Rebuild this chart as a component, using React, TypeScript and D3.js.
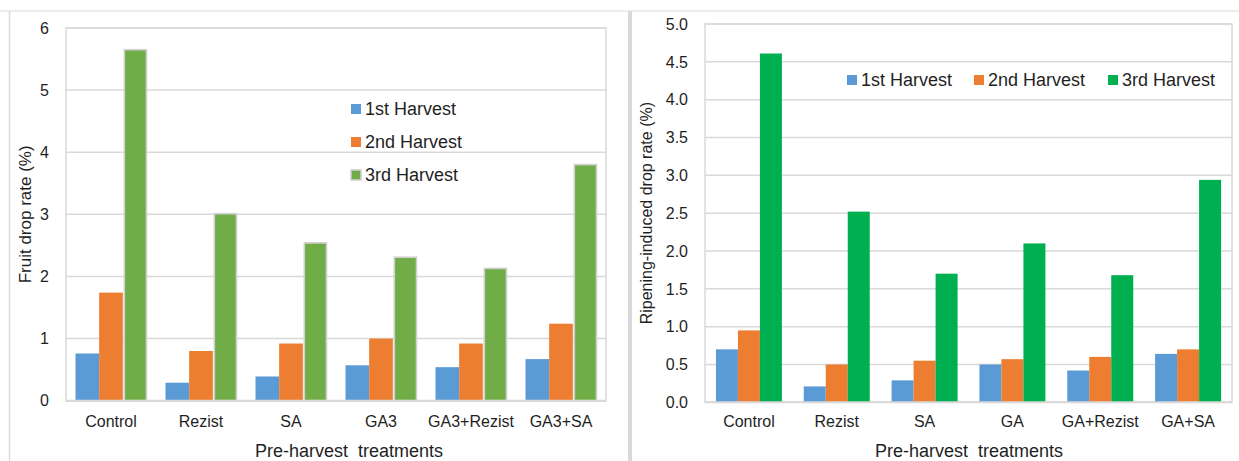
import React from "react";
import * as d3 from "d3";

const categoriesLeft = ["Control", "Rezist", "SA", "GA3", "GA3+Rezist", "GA3+SA"];
const categoriesRight = ["Control", "Rezist", "SA", "GA", "GA+Rezist", "GA+SA"];
const seriesNames = ["1st Harvest", "2nd Harvest", "3rd Harvest"];

const leftHarvest1 = [0.76, 0.29, 0.39, 0.57, 0.54, 0.67];
const leftHarvest2 = [1.74, 0.8, 0.92, 1.0, 0.92, 1.24];
const leftHarvest3 = [5.65, 3.01, 2.54, 2.31, 2.13, 3.8];

const rightHarvest1 = [0.7, 0.21, 0.29, 0.5, 0.42, 0.64];
const rightHarvest2 = [0.95, 0.5, 0.55, 0.57, 0.6, 0.7];
const rightHarvest3 = [4.61, 2.52, 1.7, 2.1, 1.68, 2.94];

const leftTicks = [0, 1, 2, 3, 4, 5, 6];
const rightTicks = [0, 0.5, 1, 1.5, 2, 2.5, 3, 3.5, 4, 4.5, 5];

const FONT = "'Liberation Sans', Arial, sans-serif";
const GRID = "#d9d9d9";
const TEXT = "#1f1f1f";

type PanelProps = {
  categories: string[];
  series: number[][];
  colors: string[];
  strokes: (string | null)[];
  ticks: number[];
  tickFormat: (v: number) => string;
  yMax: number;
  plot: { x0: number; x1: number; y0: number; y1: number };
  padInner: number;
  yTitle: string;
  yTitleX: number;
  yTitleSize: number;
  xTitle: string;
  xTitleX: number;
  legend: { vertical: boolean; x: number; y: number; offsets: number[] };
};

function Panel(p: PanelProps) {
  const x0 = d3
    .scaleBand<string>()
    .domain(p.categories)
    .range([p.plot.x0, p.plot.x1])
    .paddingInner(p.padInner)
    .paddingOuter(p.padInner / 2);
  const x1 = d3
    .scaleBand<number>()
    .domain(d3.range(p.series.length))
    .range([0, x0.bandwidth()])
    .padding(0);
  const y = d3.scaleLinear().domain([0, p.yMax]).range([p.plot.y1, p.plot.y0]);
  const yMid = (p.plot.y0 + p.plot.y1) / 2;

  return (
    <g>
      {/* plot border */}
      <rect
        x={p.plot.x0}
        y={p.plot.y0}
        width={p.plot.x1 - p.plot.x0}
        height={p.plot.y1 - p.plot.y0}
        fill="none"
        stroke={GRID}
        strokeWidth={1.5}
      />
      {p.ticks.map((t) => (
        <line
          key={"g" + t}
          x1={p.plot.x0}
          x2={p.plot.x1}
          y1={y(t)}
          y2={y(t)}
          stroke={GRID}
          strokeWidth={1.5}
        />
      ))}
      {p.ticks.map((t) => (
        <text
          key={"t" + t}
          x={p.plot.x0 - 17}
          y={y(t)}
          dy="0.36em"
          textAnchor="end"
          fontSize={16}
          fontFamily={FONT}
          fill={TEXT}
        >
          {p.tickFormat(t)}
        </text>
      ))}
      {p.categories.map((c, ci) => (
        <g key={c}>
          {p.series.map((s, si) => {
            const bx = (x0(c) as number) + (x1(si) as number);
            const bw = x1.bandwidth();
            const st = p.strokes[si];
            return (
              <rect
                key={si}
                x={st ? bx + 1.5 : bx}
                y={y(s[ci])}
                width={st ? bw - 1.5 : bw}
                height={p.plot.y1 - y(s[ci])}
                fill={p.colors[si]}
                stroke={st || "none"}
                strokeWidth={st ? 1.6 : 0}
              />
            );
          })}
          <text
            x={(x0(c) as number) + x0.bandwidth() / 2}
            y={427}
            textAnchor="middle"
            fontSize={16}
            fontFamily={FONT}
            fill={TEXT}
          >
            {c}
          </text>
        </g>
      ))}
      <line
        x1={p.plot.x0}
        x2={p.plot.x1}
        y1={p.plot.y1}
        y2={p.plot.y1}
        stroke={GRID}
        strokeWidth={2}
      />
      <text
        x={p.xTitleX}
        y={457}
        textAnchor="middle"
        fontSize={18}
        fontFamily={FONT}
        fill={TEXT}
        style={{ whiteSpace: "pre" }}
      >
        {p.xTitle}
      </text>
      <text
        transform={`translate(${p.yTitleX},${yMid}) rotate(-90)`}
        textAnchor="middle"
        dy="0.35em"
        fontSize={p.yTitleSize}
        fontFamily={FONT}
        fill={TEXT}
      >
        {p.yTitle}
      </text>
      {seriesNames.map((n, i) => {
        const lx = p.legend.vertical ? p.legend.x : p.legend.x + p.legend.offsets[i];
        const ly = p.legend.vertical ? p.legend.y + p.legend.offsets[i] : p.legend.y;
        const st = p.strokes[i];
        return (
          <g key={n}>
            <rect
              x={lx}
              y={ly - 5}
              width={10}
              height={10}
              fill={p.colors[i]}
              stroke={st || "none"}
              strokeWidth={st ? 1.5 : 0}
            />
            <text x={lx + 14} y={ly} dy="0.35em" fontSize={18} fontFamily={FONT} fill={TEXT}>
              {n}
            </text>
          </g>
        );
      })}
    </g>
  );
}

export default function App() {
  return (
    <svg
      width={1239}
      height={461}
      style={{ position: "absolute", left: 0, top: 0, background: "#fff" }}
    >
      <rect x={0} y={0} width={1239} height={461} fill="#fff" />
      {/* outer frames */}
      <line x1={0} x2={1239} y1={11} y2={11} stroke={GRID} strokeWidth={1.2} />
      <line x1={9.5} x2={9.5} y1={11} y2={461} stroke={GRID} strokeWidth={1.5} />
      <rect x={628} y={11} width={4} height={450} fill={GRID} />
      <Panel
        categories={categoriesLeft}
        series={[leftHarvest1, leftHarvest2, leftHarvest3]}
        colors={["#5b9bd5", "#ed7d31", "#70ad47"]}
        strokes={[null, null, "#d0d0d0"]}
        ticks={leftTicks}
        tickFormat={(v) => d3.format("d")(v)}
        yMax={6}
        plot={{ x0: 66, x1: 606, y0: 28, y1: 400.7 }}
        padInner={0.211}
        yTitle="Fruit drop rate (%)"
        yTitleX={25}
        yTitleSize={17}
        xTitle={"Pre-harvest  treatments"}
        xTitleX={349}
        legend={{ vertical: true, x: 351, y: 109, offsets: [0, 33, 66] }}
      />
      <Panel
        categories={categoriesRight}
        series={[rightHarvest1, rightHarvest2, rightHarvest3]}
        colors={["#5b9bd5", "#ed7d31", "#00b050"]}
        strokes={[null, null, null]}
        ticks={rightTicks}
        tickFormat={(v) => d3.format(".1f")(v)}
        yMax={5}
        plot={{ x0: 705, x1: 1232, y0: 24, y1: 402.3 }}
        padInner={0.2486}
        yTitle="Ripening-induced drop rate (%)"
        yTitleX={646}
        yTitleSize={16}
        xTitle={"Pre-harvest  treatments"}
        xTitleX={969}
        legend={{ vertical: false, x: 847, y: 80, offsets: [0, 127, 261] }}
      />
    </svg>
  );
}
